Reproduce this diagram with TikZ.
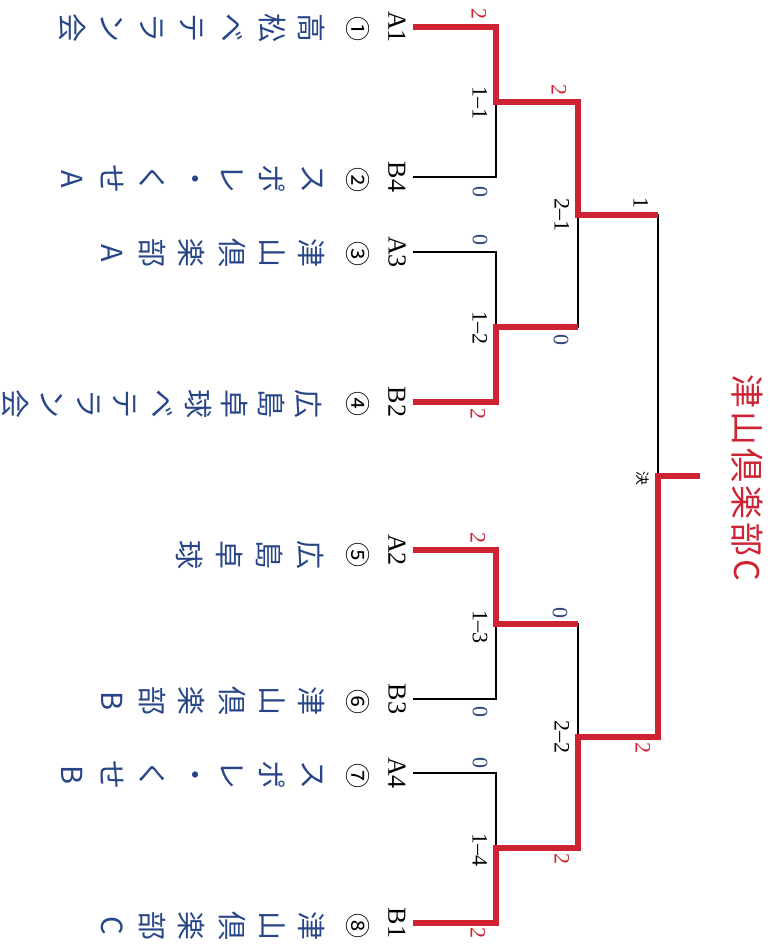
\documentclass[tikz,border=0pt]{standalone}
\usepackage{fontspec}
\setmainfont{Liberation Serif}
\newfontfamily\jp{Noto Sans CJK JP}
\newfontfamily\jpwide[LetterSpace=9]{Noto Sans CJK JP}
\definecolor{tred}{RGB}{205,35,50}
\definecolor{tblue}{RGB}{40,70,135}
\definecolor{tnavy}{RGB}{45,65,125}
\tikzset{
  winline/.style={draw=tred, line width=6.5pt, line join=miter},
  loseline/.style={draw=black, line width=1.6pt},
  teamlbl/.style={rotate=-90, inner sep=0pt, font=\fontsize{26}{26}\selectfont},
  scorelbl/.style={rotate=-90, inner sep=0pt, font=\fontsize{22}{22}\selectfont},
  redscore/.style={scorelbl, text=tred},
  zeroscore/.style={scorelbl, text=tnavy},
  jpch/.style={rotate=-90, inner sep=0pt, text=tblue, font=\jp\fontsize{29}{29}\selectfont},
  circnum/.style={rotate=-90, inner sep=0pt, font=\jp\fontsize{25}{25}\selectfont},
}
\newcommand\teamname[5]{%
  \foreach \c [count=\i] in {#5} {\node[jpch] (#1-\i) at ({#3-#4*(\i-1)}, #2) {\c};}}
\begin{document}
\begin{tikzpicture}[x=1pt,y=-1pt]
\useasboundingbox (0,0) rectangle (770,944);
% team labels and leaf points
\foreach \t/\y in {A1/27,B4/177,A3/252,B2/402,A2/550,B3/699,A4/773,B1/923} {
  \node[teamlbl] (\t) at (397,\y) {\t};
  \coordinate (p\t) at (413,\y);
}
% junctions
\coordinate (j11) at (496,102);
\coordinate (j12) at (496,327);
\coordinate (j13) at (496,624);
\coordinate (j14) at (496,848);
\coordinate (j21) at (578,215);
\coordinate (j22) at (578,737);
\coordinate (jf) at (658,476);
\coordinate (champ) at (700,476);
% losing lines
\draw[loseline] (pB4) -| (j11);
\draw[loseline] (pA3) -| (j12);
\draw[loseline] (j12) -| (j21);
\draw[loseline] (j21) -| (jf);
\draw[loseline] (pB3) -| (j13);
\draw[loseline] (j13) -| (j22);
\draw[loseline] (pA4) -| (j14);
% winning lines
\draw[winline] (pA1) -| (j11) -| (j21) -- (j21 -| jf);
\draw[winline] (pB2) -| (j12) -- (j12 -| j21);
\draw[winline] (pA2) -| (j13) -- (j13 -| j22);
\draw[winline] (pB1) -| (j14) -| (j22) -| (jf) -- (champ);
% scores
\node[redscore] (s1) at (479,14) {2};
\node[scorelbl] (m11) at (480,103) {1–1};
\node[zeroscore] (s2) at (480,192) {0};
\node[zeroscore] (s3) at (480,240) {0};
\node[scorelbl] (m12) at (480,328) {1–2};
\node[redscore] (s4) at (478,414) {2};
\node[redscore] (s5) at (559,90) {2};
\node[scorelbl] (m21) at (562,215) {2–1};
\node[zeroscore] (s6) at (561,340) {0};
\node[scorelbl] (s7) at (641,203) {1};
\node[font=\jp\fontsize{14}{14}\selectfont, rotate=-90, inner sep=0pt] (fin) at (643,478) {決};
\node[redscore] (s8) at (478,538) {2};
\node[zeroscore] (s9) at (560,613) {0};
\node[scorelbl] (m13) at (480,627) {1–3};
\node[zeroscore] (s10) at (480,712) {0};
\node[scorelbl] (m22) at (562,737) {2–2};
\node[redscore] (s11) at (643,748) {2};
\node[zeroscore] (s12) at (480,763) {0};
\node[scorelbl] (m14) at (480,850) {1–4};
\node[redscore] (s13) at (562,859) {2};
\node[redscore] (s14) at (478,933) {2};
% title
\node[rotate=-90, inner sep=0pt, text=tred, font=\jpwide\fontsize{34}{34}\selectfont] (title) at (747,478) {津山倶楽部C};
% circled numbers
\foreach \n/\y [count=\k] in {①/29,②/180,③/254,④/404,⑤/555,⑥/702,⑦/776,⑧/926} {
  \node[circnum] (c\k) at (358,\y) {\n};
}
% team names
\teamname{t1}{28}{312}{40}{高,松,ベ,テ,ラ,ン,会}
\teamname{t2}{179}{312}{40}{ス,ポ,レ,・,く,せ,A}
\teamname{t3}{253}{312}{40}{津,山,倶,楽,部,A}
\teamname{t4}{404}{308}{36.6}{広,島,卓,球,ベ,テ,ラ,ン,会}
\teamname{t5}{555}{310}{40}{広,島,卓,球}
\teamname{t6}{701}{312}{40}{津,山,倶,楽,部,B}
\teamname{t7}{775}{312}{40}{ス,ポ,レ,・,く,せ,B}
\teamname{t8}{926}{312}{40}{津,山,倶,楽,部,C}
\end{tikzpicture}
\end{document}
